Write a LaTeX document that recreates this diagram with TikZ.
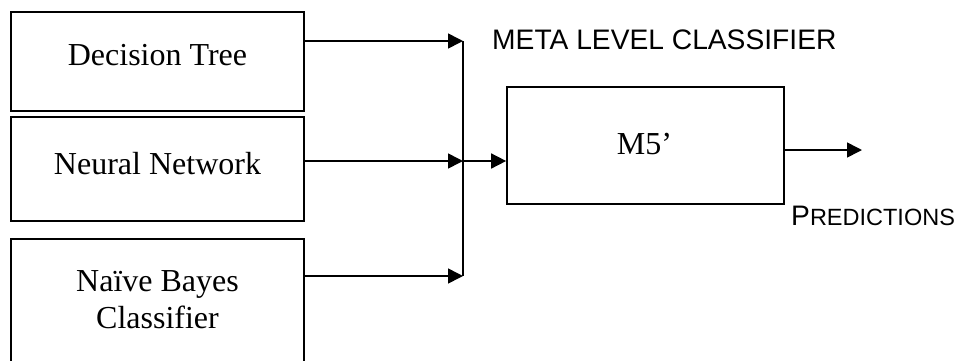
\documentclass[tikz,border=0pt]{standalone}
\usepackage{fontspec}
\setmainfont{Liberation Serif}
\newfontfamily\arialfont{Liberation Sans}
\usetikzlibrary{arrows.meta}
\begin{document}
\begin{tikzpicture}[x=1pt,y=-1pt,
  box/.style={draw, line width=1.7pt, rectangle, inner sep=0pt},
  txt/.style={inner sep=0pt, anchor=base, font=\fontsize{32}{37}\selectfont},
  conn/.style={line width=1.6pt},
  arr/.style={conn, -{Triangle[length=15pt,width=15pt]}},
  lbl/.style={inner sep=0pt, anchor=base west, font=\arialfont\fontsize{28.2}{34}\selectfont}]
\useasboundingbox (0,0) rectangle (959,360);
\node[box, minimum width=293pt, minimum height=99pt] (dt) at (157.5,61.5) {};
\node[txt] (dtt) at (157.5,65) {Decision Tree};
\node[box, minimum width=293pt, minimum height=104pt] (nn) at (157.5,169) {};
\node[txt] (nnt) at (157.5,174) {Neural Network};
\node[box, minimum width=293pt, minimum height=142pt] (nb) at (157.5,310) {};
\node[txt] (nbt1) at (157.5,291) {Naïve Bayes};
\node[txt] (nbt2) at (157.5,328) {Classifier};
\node[box, minimum width=277pt, minimum height=117pt] (m5) at (645.5,145.5) {};
\node[txt] (m5t) at (644.5,154) {M5’};
\coordinate (j1) at (463,41);
\coordinate (j2) at (463,161);
\coordinate (j3) at (463,276);
\coordinate (out) at (862,150);
\draw[arr] (dt.east |- j1) -- (j1);
\draw[arr] (nn.east |- j2) -- (j2);
\draw[arr] (nb.east |- j3) -- (j3);
\draw[conn] (j1) -- (j3);
\draw[arr] (j2) -- (j2 -| m5.west);
\draw[arr] (m5.east |- out) -- (out);
\node[lbl] (meta) at (492,49) {META LEVEL CLASSIFIER};
\node[lbl] (pred) at (791,225) {P{\fontsize{23.5}{28}\selectfont REDICTIONS}};
\end{tikzpicture}
\end{document}
